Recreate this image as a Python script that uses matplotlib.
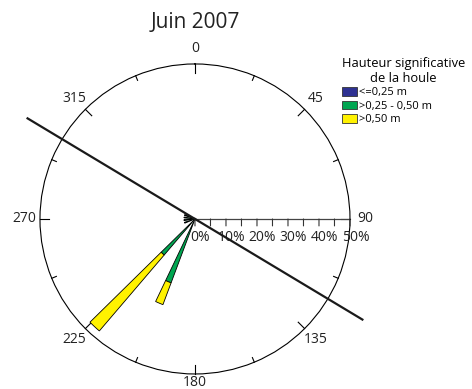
import numpy as np
import matplotlib
matplotlib.use("Agg")
import matplotlib.pyplot as plt
from matplotlib.patches import Patch

plt.rcParams['font.family'] = ['Open Sans', 'DejaVu Sans']

# wave direction (degrees) and frequency (%) per height class
directions = [203, 223, 250, 264, 278, 291]
low = [0, 0, 0, 0, 0, 0]            # <=0,25 m
mid = [22.0, 15.3, 3.5, 3.5, 3.5, 3.5]  # >0,25 - 0,50 m
high = [7.5, 32.2, 0, 0, 0, 0]      # >0,50 m

classes = ["<=0,25 m", ">0,25 - 0,50 m", ">0,50 m"]
colors = ["#2e3192", "#00a651", "#fff200"]

compass = [0, 45, 90, 135, 180, 225, 270, 315]
pct_ticks = [0, 10, 20, 30, 40, 50]
coast_dir = 301
rmax = 50

fig = plt.figure(figsize=(4.72, 3.89), dpi=100)
ax = fig.add_axes([0.0847, 0.0386, 0.6568, 0.797], projection='polar')
ax.set_theta_zero_location('N')
ax.set_theta_direction(-1)
ax.set_ylim(0, rmax)
ax.grid(False)
ax.set_xticks([])
ax.set_yticks([])
ax.spines['polar'].set_linewidth(0.8)

th = np.deg2rad(directions)
w = np.deg2rad(5)
bottom = np.zeros(len(directions))
for vals, c in zip([low, mid, high], colors):
    vals = np.array(vals)
    ax.bar(th, vals, width=w, bottom=bottom, color=c, edgecolor='black',
           linewidth=0.6, zorder=3)
    bottom += vals

# compass ticks and labels
for a in np.arange(0, 360, 22.5):
    ln = 2.9 if a % 45 == 0 else 1.6
    ax.plot([np.deg2rad(a)] * 2, [rmax - ln, rmax], color='black', lw=0.8, clip_on=False)
for a in compass:
    lr = 52.6 if a == 180 else 55
    ax.text(np.deg2rad(a), lr, str(a), ha='center', va='center', fontsize=10,
            color='#222222')

# radial scale along 90 degrees
ax.plot([np.pi / 2] * 2, [0, rmax], color='#444444', lw=0.9, zorder=2)
for r in np.arange(0, rmax + 1, 5):
    ax.annotate('', xy=(np.pi / 2, r), xytext=(0, -5), textcoords='offset points',
                arrowprops=dict(arrowstyle='-', color='#333333', lw=0.8,
                                shrinkA=0, shrinkB=0))
for r in pct_ticks:
    ax.annotate(f"{r}%", xy=(np.pi / 2, r), xytext=(4, -13), textcoords='offset points',
                ha='center', va='center', fontsize=10, color='#222222')

# coastline orientation
t = np.deg2rad(coast_dir)
ax.plot([t, t], [0, 63], color='#1a1a1a', lw=1.6, clip_on=False, zorder=4)
ax.plot([t - np.pi, t - np.pi], [0, 63], color='#1a1a1a', lw=1.6, clip_on=False, zorder=4)

fig.text(0.413, 0.943, "Juin 2007", ha='center', va='center', fontsize=15, color='#222222')

handles = [Patch(facecolor=c, edgecolor='#333333', linewidth=0.6) for c in colors]
leg = fig.legend(handles, classes, title="Hauteur significative\nde la houle",
                 loc='upper left', bbox_to_anchor=(0.712, 0.868), frameon=False,
                 fontsize=8, title_fontsize=9.3, handlelength=1.4, handleheight=0.85,
                 handletextpad=0.2, labelspacing=0.2, borderpad=0)
leg.get_title().set_multialignment('center')
leg._legend_box.align = 'left'

fig.savefig("out.png", dpi=100)
